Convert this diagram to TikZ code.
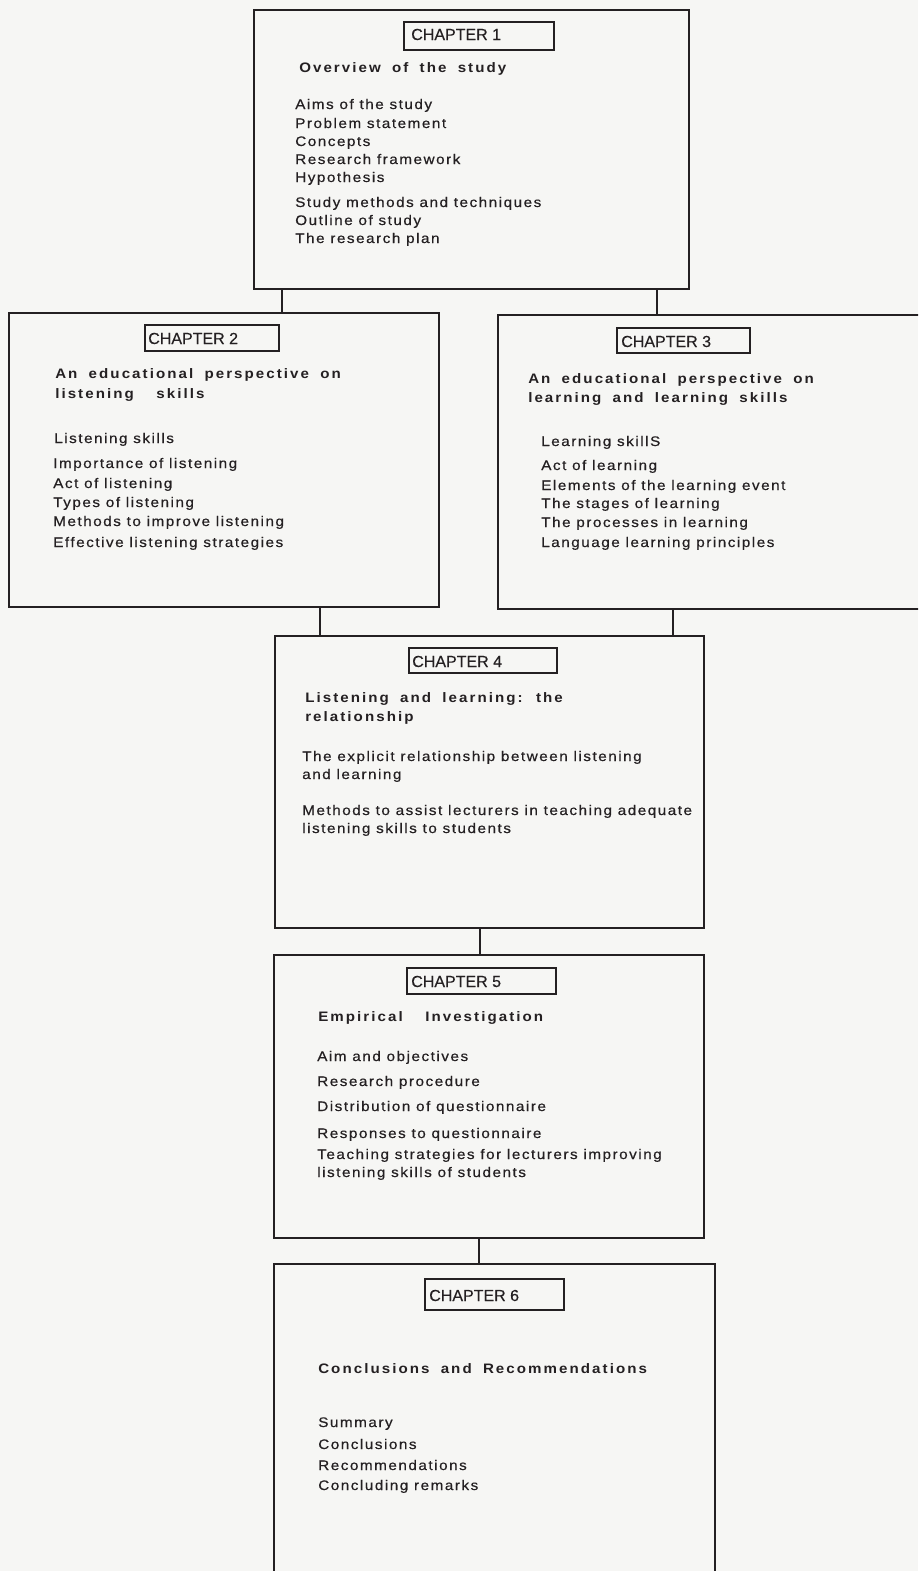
\documentclass[tikz,border=0pt]{standalone}
\usepackage{fontspec}
\setmainfont{Liberation Sans}
\newfontfamily\itemfont[LetterSpace=11,FakeStretch=1.1,FakeBold=0.5]{Liberation Sans}
\newfontfamily\headfont[LetterSpace=15,WordSpace=1.8,FakeStretch=1.1]{Liberation Sans}
\newfontfamily\chapfont[FakeBold=0.3]{Liberation Sans}
\definecolor{paper}{RGB}{246,246,244}
\definecolor{ink}{RGB}{36,32,34}
\def\u{0.75pt}
\tikzset{
  frame/.style args={#1 by #2}{draw=ink, line width=1.35pt, rectangle, inner sep=0pt,
    anchor=north west, minimum width=#1*\u, minimum height=#2*\u},
  chapbox/.style args={#1 by #2}{frame={#1 by #2}, line width=1.2pt},
  chaptext/.style={anchor=base west, inner sep=0pt, text=ink,
    font=\chapfont\fontsize{12pt}{14pt}\selectfont},
  headtext/.style={anchor=base west, inner sep=0pt, text=ink,
    font=\headfont\bfseries\fontsize{10.3pt}{12pt}\selectfont},
  itemtext/.style={anchor=base west, inner sep=0pt, text=ink,
    font=\itemfont\fontsize{10.4pt}{12pt}\selectfont},
  link/.style={draw=ink, line width=1.35pt}
}
\begin{document}
\begin{tikzpicture}[x=0.75pt, y=-0.75pt]
\useasboundingbox (0,0) rectangle (918,1571);
\fill[paper] (0,0) rectangle (918,1571);
\clip (0,0) rectangle (918,1571);

% chapter frames
\node[frame={435 by 279}] (c1) at (253,9) {};
\node[frame={430 by 294}] (c2) at (8,312) {};
\node[frame={440 by 294}] (c3) at (497,314) {};
\node[frame={429 by 292}] (c4) at (274,635) {};
\node[frame={430 by 283}] (c5) at (273,954) {};
\node[frame={441 by 340}] (c6) at (273,1263) {};

% chapter labels
\node[chapbox={150 by 28}] (l1) at (403,21) {};
\node[chapbox={134 by 26}] (l2) at (144,324) {};
\node[chapbox={133 by 25}] (l3) at (616,327) {};
\node[chapbox={148 by 25}] (l4) at (408,647) {};
\node[chapbox={149 by 26}] (l5) at (406,967) {};
\node[chapbox={139 by 31}] (l6) at (424,1278) {};
\node[chaptext] (n1) at (411,40) {CHAPTER 1};
\node[chaptext] (n2) at (148,344) {CHAPTER 2};
\node[chaptext] (n3) at (621,347) {CHAPTER 3};
\node[chaptext] (n4) at (412,667) {CHAPTER 4};
\node[chaptext] (n5) at (411,987) {CHAPTER 5};
\node[chaptext] (n6) at (429,1301) {CHAPTER 6};

% connectors between chapters
\coordinate (k12) at (282,0);
\coordinate (k13) at (657,0);
\coordinate (k24) at (320,0);
\coordinate (k34) at (673,0);
\coordinate (k45) at (480,0);
\coordinate (k56) at (479,0);
\draw[link] (k12 |- c1.south) -- (k12 |- c2.north);
\draw[link] (k13 |- c1.south) -- (k13 |- c3.north);
\draw[link] (k24 |- c2.south) -- (k24 |- c4.north);
\draw[link] (k34 |- c3.south) -- (k34 |- c4.north);
\draw[link] (k45 |- c4.south) -- (k45 |- c5.north);
\draw[link] (k56 |- c5.south) -- (k56 |- c6.north);

% chapter 1
\node[headtext] (h1) at (299,72) {Overview of the study};
\node[itemtext] (a1) at (295,109) {Aims of the study};
\node[itemtext] (a2) at (295,128) {Problem statement};
\node[itemtext] (a3) at (295,146) {Concepts};
\node[itemtext] (a4) at (295,164) {Research framework};
\node[itemtext] (a5) at (295,182) {Hypothesis};
\node[itemtext] (a6) at (295,207) {Study methods and techniques};
\node[itemtext] (a7) at (295,225) {Outline of study};
\node[itemtext] (a8) at (295,243) {The research plan};

% chapter 2
\node[headtext] (h2a) at (55,378) {An educational perspective on};
\node[headtext] (h2b) at (55,398) {listening\ \ skills};
\node[itemtext] (b1) at (54,443) {Listening skills};
\node[itemtext] (b2) at (53,468) {Importance of listening};
\node[itemtext] (b3) at (53,488) {Act of listening};
\node[itemtext] (b4) at (53,507) {Types of listening};
\node[itemtext] (b5) at (53,526) {Methods to improve listening};
\node[itemtext] (b6) at (53,547) {Effective listening strategies};

% chapter 3
\node[headtext] (h3a) at (528,383) {An educational perspective on};
\node[headtext] (h3b) at (528,402) {learning and learning skills};
\node[itemtext] (d1) at (541,446) {Learning skillS};
\node[itemtext] (d2) at (541,470) {Act of learning};
\node[itemtext] (d3) at (541,490) {Elements of the learning event};
\node[itemtext] (d4) at (541,508) {The stages of learning};
\node[itemtext] (d5) at (541,527) {The processes in learning};
\node[itemtext] (d6) at (541,547) {Language learning principles};

% chapter 4
\node[headtext] (h4a) at (305,702) {Listening and learning: the};
\node[headtext] (h4b) at (305,721) {relationship};
\node[itemtext] (e1) at (302,761) {The explicit relationship between listening};
\node[itemtext] (e2) at (302,779) {and learning};
\node[itemtext] (e3) at (302,815) {Methods to assist lecturers in teaching adequate};
\node[itemtext] (e4) at (302,833) {listening skills to students};

% chapter 5
\node[headtext] (h5) at (318,1021) {Empirical\ \ Investigation};
\node[itemtext] (f1) at (317,1061) {Aim and objectives};
\node[itemtext] (f2) at (317,1086) {Research procedure};
\node[itemtext] (f3) at (317,1111) {Distribution of questionnaire};
\node[itemtext] (f4) at (317,1138) {Responses to questionnaire};
\node[itemtext] (f5) at (317,1159) {Teaching strategies for lecturers improving};
\node[itemtext] (f6) at (317,1177) {listening skills of students};

% chapter 6
\node[headtext] (h6) at (318,1373) {Conclusions and Recommendations};
\node[itemtext] (g1) at (318,1427) {Summary};
\node[itemtext] (g2) at (318,1449) {Conclusions};
\node[itemtext] (g3) at (318,1470) {Recommendations};
\node[itemtext] (g4) at (318,1490) {Concluding remarks};
\end{tikzpicture}
\end{document}
